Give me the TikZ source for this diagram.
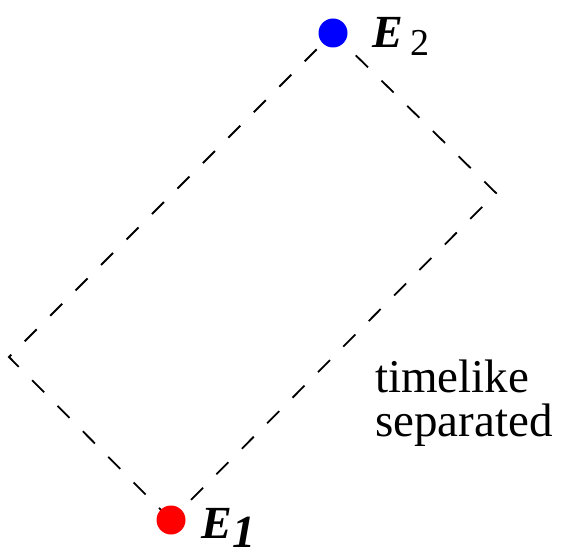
\documentclass[tikz,border=0pt]{standalone}
\usepackage{fontspec}
\setmainfont{Liberation Serif}
\begin{document}
\begin{tikzpicture}[x=1pt,y=-1pt,
  edgeline/.style={line width=1.8pt, dash pattern=on 17pt off 19pt, line cap=butt},
  eventdot/.style={circle, inner sep=0pt, minimum size=29pt},
  lbl/.style={inner sep=0pt, anchor=base west},
  bigtext/.style={inner sep=0pt, anchor=base west, font=\fontsize{47}{52}\selectfont}]
\useasboundingbox (0,0) rectangle (565,556);
\coordinate (L) at (9,357);
\coordinate (R) at (496,193);
\node[eventdot] (e1) at (171,520) {};
\node[eventdot] (e2) at (333,33) {};
\draw[edgeline] (e1.center) -- (L) -- (e2.center) -- (R) -- cycle;
\fill[red] (e1) circle (14.5pt);
\fill[blue] (e2) circle (14.5pt);
\node[lbl] (l2) at (372,48) {\fontsize{46}{50}\selectfont\bfseries\itshape E\hspace{8pt}\raisebox{-8pt}{\fontsize{38}{40}\selectfont\mdseries\upshape 2}};
\node[lbl] (l1) at (201,538) {\fontsize{46}{50}\selectfont\bfseries\itshape E\hspace{1pt}\raisebox{-9pt}{1}};
\node[bigtext] (t1) at (375,392) {timelike};
\node[bigtext] (t2) at (375,436) {separated};
\end{tikzpicture}
\end{document}
